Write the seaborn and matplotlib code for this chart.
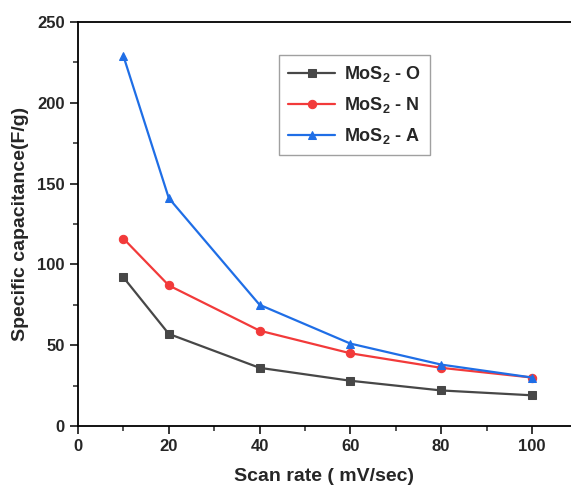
import matplotlib
matplotlib.use("Agg")
import matplotlib.pyplot as plt
import seaborn as sns
import pandas as pd
from matplotlib.ticker import MultipleLocator

scan_rate = [10, 20, 40, 60, 80, 100]
mos2_o = [92, 57, 36, 28, 22, 19]
mos2_n = [116, 87, 59, 45, 36, 30]
mos2_a = [229, 141, 75, 51, 38, 30]
labels = ["MoS$_\\mathbf{2}$ - O", "MoS$_\\mathbf{2}$ - N", "MoS$_\\mathbf{2}$ - A"]

sns.set_style("white")
plt.rcParams['font.family'] = ['Liberation Sans', 'DejaVu Sans']
plt.rcParams['mathtext.fontset'] = 'custom'
plt.rcParams['mathtext.rm'] = 'Liberation Sans:bold'
plt.rcParams['mathtext.bf'] = 'Liberation Sans:bold'
plt.rcParams['mathtext.it'] = 'Liberation Sans:bold'

df = pd.concat([
    pd.DataFrame({"x": scan_rate, "y": v, "s": lab})
    for v, lab in zip([mos2_o, mos2_n, mos2_a], labels)
])

fig = plt.figure(figsize=(5.71, 4.9), dpi=100)
ax = fig.add_axes([78/571, 1-426/490, 1-78/571, (426-22)/490])

colors = ["#474747", "#f23a3a", "#1f6ee6"]
markers = ["s", "o", "^"]
for lab, c, m in zip(labels, colors, markers):
    d = df[df.s == lab]
    sns.lineplot(data=d, x="x", y="y", ax=ax, color=c, marker=m, markersize=6,
                 markeredgecolor=c, linewidth=1.6, label=lab)

ax.set_xlim(0, 108.6)
ax.set_ylim(0, 250)
ax.xaxis.set_major_locator(MultipleLocator(20))
ax.xaxis.set_minor_locator(MultipleLocator(10))
ax.yaxis.set_major_locator(MultipleLocator(50))
ax.yaxis.set_minor_locator(MultipleLocator(25))
ax.tick_params(which="major", direction="out", length=6, width=1.3, labelsize=12, bottom=True, left=True)
ax.tick_params(which="minor", direction="out", length=3.5, width=1.1, bottom=True, left=True)
for lbl in ax.get_xticklabels() + ax.get_yticklabels():
    lbl.set_fontweight("bold")
ax.spines["right"].set_visible(False)
for s in ["left", "bottom", "top"]:
    ax.spines[s].set_color("black")
    ax.spines[s].set_linewidth(1.3)
ax.set_xlabel("Scan rate ( mV/sec)", fontsize=14, fontweight="bold", labelpad=10)
ax.set_ylabel("Specific capacitance(F/g)", fontsize=14, fontweight="bold", labelpad=6)

leg = ax.legend(loc="upper left", bbox_to_anchor=(0.39, 0.94), frameon=True, fancybox=False,
                prop={"weight": "bold", "size": 13}, handlelength=2.6, borderpad=0.5,
                labelspacing=0.6, handletextpad=0.5)
leg.get_frame().set_edgecolor("#888888")
leg.get_frame().set_linewidth(1.0)

fig.savefig("out.png", dpi=100)
